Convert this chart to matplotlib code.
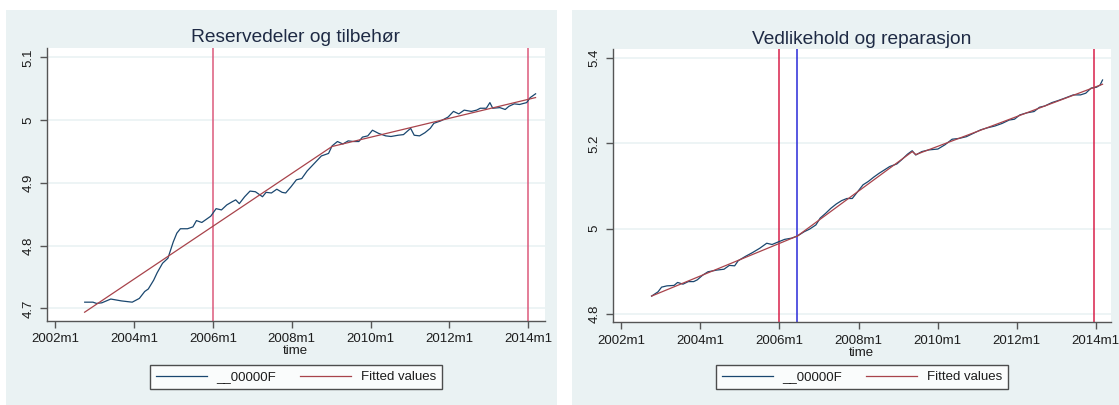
import matplotlib
matplotlib.use("Agg")
import matplotlib.pyplot as plt
from matplotlib.patches import Rectangle

plt.rcParams["font.family"] = ["Liberation Sans", "DejaVu Sans"]

# ---- data (x in decimal years) ----
left_title = "Reservedeler og tilbehør"
left_x = [2002.743, 2002.952, 2003.042, 2003.178, 2003.405, 2003.677, 2003.813,
          2003.949, 2004.130, 2004.266, 2004.357, 2004.493, 2004.583, 2004.719,
          2004.855, 2004.991, 2005.082, 2005.172, 2005.354, 2005.490, 2005.580,
          2005.716, 2005.807, 2005.943, 2006.079, 2006.215, 2006.351, 2006.487,
          2006.577, 2006.668, 2006.804, 2006.940, 2007.076, 2007.257, 2007.348,
          2007.484, 2007.620, 2007.755, 2007.846, 2007.982, 2008.118, 2008.254,
          2008.390, 2008.571, 2008.752, 2008.934, 2009.024, 2009.160, 2009.296,
          2009.432, 2009.568, 2009.704, 2009.795, 2009.931, 2010.049, 2010.203,
          2010.384, 2010.520, 2010.701, 2010.837, 2011.018, 2011.109, 2011.245,
          2011.381, 2011.517, 2011.608, 2011.789, 2011.970, 2012.106, 2012.242,
          2012.378, 2012.559, 2012.695, 2012.786, 2012.940, 2013.031, 2013.103,
          2013.285, 2013.420, 2013.511, 2013.647, 2013.783, 2013.964, 2014.055,
          2014.191]
left_y = [4.710, 4.710, 4.708, 4.709, 4.715, 4.712, 4.711,
          4.710, 4.716, 4.727, 4.731, 4.745, 4.757, 4.772,
          4.780, 4.806, 4.820, 4.827, 4.827, 4.830, 4.840,
          4.837, 4.841, 4.847, 4.859, 4.857, 4.865, 4.870,
          4.873, 4.867, 4.878, 4.887, 4.886, 4.878, 4.885,
          4.884, 4.890, 4.885, 4.884, 4.894, 4.905, 4.907,
          4.919, 4.931, 4.943, 4.947, 4.959, 4.966, 4.962,
          4.967, 4.966, 4.966, 4.973, 4.975, 4.984, 4.979,
          4.975, 4.974, 4.976, 4.977, 4.987, 4.976, 4.975,
          4.980, 4.987, 4.995, 4.999, 5.005, 5.014, 5.010,
          5.016, 5.014, 5.016, 5.019, 5.019, 5.028, 5.019,
          5.020, 5.017, 5.022, 5.026, 5.025, 5.028, 5.036,
          5.042]
left_fit_x = [2002.74, 2009.02, 2014.19]
left_fit_y = [4.694, 4.958, 5.036]
left_red_lines = [2006.0, 2014.0]
left_blue_lines = []
left_yticks = [4.7, 4.8, 4.9, 5.0, 5.1]
left_ylabels = ["4.7", "4.8", "4.9", "5", "5.1"]

right_title = "Vedlikehold og reparasjon"
right_x = [2002.766, 2002.929, 2003.019, 2003.154, 2003.334, 2003.424, 2003.560,
           2003.695, 2003.830, 2003.920, 2004.056, 2004.191, 2004.416, 2004.597,
           2004.732, 2004.867, 2004.957, 2005.137, 2005.317, 2005.498, 2005.678,
           2005.813, 2005.994, 2006.129, 2006.309, 2006.454, 2006.625, 2006.760,
           2006.922, 2007.030, 2007.166, 2007.301, 2007.436, 2007.572, 2007.707,
           2007.842, 2007.978, 2008.113, 2008.248, 2008.383, 2008.518, 2008.654,
           2008.789, 2008.969, 2009.104, 2009.239, 2009.357, 2009.447, 2009.600,
           2009.780, 2010.006, 2010.186, 2010.366, 2010.547, 2010.727, 2010.907,
           2011.088, 2011.268, 2011.448, 2011.629, 2011.809, 2011.944, 2012.079,
           2012.260, 2012.440, 2012.575, 2012.710, 2012.891, 2013.026, 2013.206,
           2013.431, 2013.612, 2013.747, 2013.882, 2014.018, 2014.108, 2014.171]
right_y = [4.842, 4.852, 4.863, 4.866, 4.867, 4.874, 4.870,
           4.876, 4.876, 4.880, 4.891, 4.899, 4.903, 4.905,
           4.914, 4.913, 4.925, 4.935, 4.944, 4.954, 4.966,
           4.963, 4.970, 4.975, 4.978, 4.983, 4.993, 4.999,
           5.009, 5.025, 5.036, 5.048, 5.058, 5.066, 5.071,
           5.071, 5.087, 5.103, 5.111, 5.121, 5.130, 5.138,
           5.146, 5.152, 5.163, 5.175, 5.183, 5.173, 5.181,
           5.185, 5.187, 5.197, 5.210, 5.212, 5.216, 5.224,
           5.232, 5.237, 5.241, 5.247, 5.255, 5.257, 5.267,
           5.272, 5.275, 5.285, 5.288, 5.296, 5.300, 5.306,
           5.314, 5.314, 5.318, 5.330, 5.332, 5.337, 5.349]
right_fit_x = [2002.766, 2006.454, 2009.36, 2009.45, 2014.171]
right_fit_y = [4.842, 4.983, 5.181, 5.174, 5.339]
right_red_lines = [2006.0, 2013.96]
right_blue_lines = [2006.45]
right_yticks = [4.8, 5.0, 5.2, 5.4]
right_ylabels = ["4.8", "5", "5.2", "5.4"]

series_labels = ["__00000F", "Fitted values"]
xtick_years = [2002, 2004, 2006, 2008, 2010, 2012, 2014]
xtick_labels = [f"{y}m1" for y in xtick_years]

BG = "#eaf2f3"
NAVY = "#1a476f"
MAROON = "#a8434b"
TXT = "#1c1c1c"

W, H = 1119, 405
fig = plt.figure(figsize=(W / 100, H / 100), dpi=100)

# panel backgrounds (pixels -> figure fraction), kept behind the axes
for x0, x1 in [(6, 557), (572, 1119)]:
    fig.patches.append(Rectangle((x0 / W, 0), (x1 - x0) / W, 1 - 10 / H,
                                 transform=fig.transFigure, facecolor=BG,
                                 edgecolor="none", zorder=-10))


def draw_panel(rect, title, x, y, fx, fy, reds, blues, yticks, ylabels,
               xlim, ylim, red_color):
    ax = fig.add_axes(rect)
    ax.set_facecolor("white")
    for v in yticks:
        ax.axhline(v, color=BG, lw=1.2, zorder=1)
    for v in reds:
        ax.axvline(v, color=red_color, lw=1.1, zorder=2)
    for v in blues:
        ax.axvline(v, color="#2a2ad8", lw=1.1, zorder=2)
    (l1,) = ax.plot(x, y, color=NAVY, lw=0.9, zorder=3)
    (l2,) = ax.plot(fx, fy, color=MAROON, lw=0.9, zorder=4)

    ax.set_xlim(*xlim)
    ax.set_ylim(*ylim)
    ax.set_xticks(xtick_years)
    ax.set_xticklabels(xtick_labels, fontsize=9.5, color=TXT)
    ax.set_yticks(yticks)
    ax.set_yticklabels(ylabels, fontsize=9.5, color=TXT, rotation=90,
                       va="center")
    ax.tick_params(axis="both", length=5, width=1, color="#555555",
                   direction="out", pad=4)
    for s in ["top", "right"]:
        ax.spines[s].set_visible(False)
    for s in ["left", "bottom"]:
        ax.spines[s].set_color("#555555")
        ax.spines[s].set_linewidth(1)
    ax.set_xlabel("time", fontsize=9.5, color=TXT, labelpad=0)
    ax.set_title(title, fontsize=13.8, color="#1e2a44", pad=4)

    # labels starting with "_" are skipped by matplotlib unless passed directly
    leg = ax.legend([l1, l2], series_labels, loc="center",
                    bbox_to_anchor=(rect[0] + rect[2] / 2, 28 / H),
                    bbox_transform=fig.transFigure, ncol=2, fontsize=9.5,
                    frameon=True, fancybox=False, handlelength=3.9,
                    handletextpad=0.7, columnspacing=1.8, borderpad=0.45)
    leg.get_frame().set_edgecolor("#222222")
    leg.get_frame().set_linewidth(1)
    for t in leg.get_texts():
        t.set_color(TXT)
    return ax


draw_panel([46.8 / W, 1 - 321 / H, 497.8 / W, 273 / H], left_title,
           left_x, left_y, left_fit_x, left_fit_y, left_red_lines, left_blue_lines,
           left_yticks, left_ylabels, (2001.78, 2014.42), (4.680, 5.115), "#dc5a7c")
draw_panel([612.8 / W, 1 - 322.3 / H, 498 / W, 273 / H], right_title,
           right_x, right_y, right_fit_x, right_fit_y, right_red_lines, right_blue_lines,
           right_yticks, right_ylabels, (2001.785, 2014.38), (4.7805, 5.421), "#d8204a")

fig.savefig("out.png", dpi=100)
